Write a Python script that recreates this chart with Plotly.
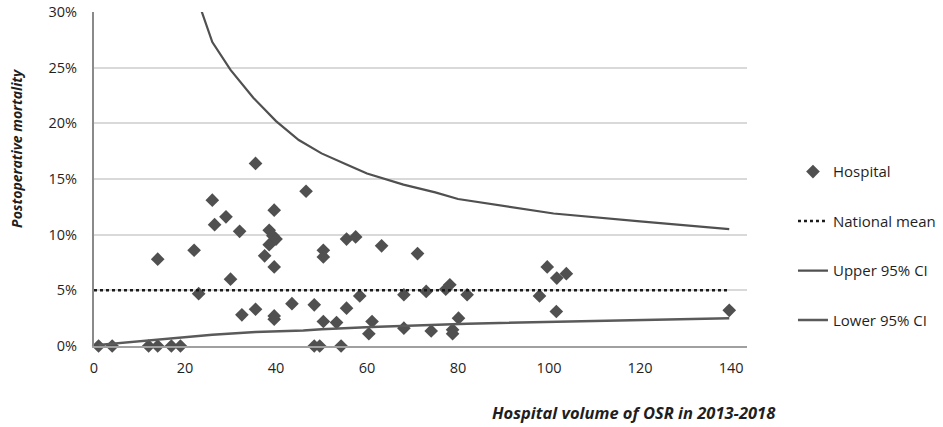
import plotly.graph_objects as go

# Hospital points: volume (2013-2018) and postoperative mortality (%)
hosp_volume = [1, 4, 12, 14, 17, 19, 14, 22, 23, 26, 26.5, 29, 30, 32, 32.5, 35.5, 35.5,
               37.5, 38.5, 38.5, 39.3, 40, 39.6, 39.6, 39.6, 39.6, 43.5, 46.6, 48.4, 48.4,
               49.6, 50.4, 50.4, 50.4, 53.3, 54.3, 55.5, 57.5, 55.5, 58.4, 60.4, 61.1, 63.2,
               68.1, 68.1, 71.1, 73.0, 74.1, 77.3, 78.2, 78.8, 78.8, 80.1, 82.0, 97.9, 99.6,
               101.7, 103.8, 101.6, 139.6]
hosp_mortality = [0, 0, 0, 0, 0, 0, 7.8, 8.6, 4.7, 13.1, 10.9, 11.6, 6.0, 10.3, 2.8, 16.4, 3.3,
                  8.1, 10.4, 9.1, 9.9, 9.6, 12.2, 7.1, 2.7, 2.4, 3.8, 13.9, 3.7, 0,
                  0, 8.6, 8.0, 2.2, 2.1, 0, 9.6, 9.8, 3.4, 4.5, 1.1, 2.2, 9.0,
                  4.6, 1.6, 8.3, 4.9, 1.35, 5.1, 5.5, 1.45, 1.1, 2.5, 4.6, 4.5, 7.1,
                  6.1, 6.5, 3.1, 3.2]

# National mean
mean_x = [0, 139.6]
mean_y = [5.0, 5.0]

# Upper 95% CI
upper_x = [22, 23.7, 26, 30, 35, 40, 45, 50, 55.5, 60, 68, 75, 80, 90, 101, 120, 139.6]
upper_y = [33.0, 30.0, 27.3, 24.8, 22.3, 20.2, 18.5, 17.3, 16.3, 15.5, 14.5, 13.8, 13.2,
           12.6, 11.9, 11.2, 10.5]

# Lower 95% CI
lower_x = [1, 12, 19, 26, 35.5, 41, 46, 50, 61, 82, 100, 139.6]
lower_y = [0.1, 0.5, 0.8, 1.0, 1.25, 1.3, 1.4, 1.5, 1.7, 2.0, 2.15, 2.5]

x_ticks = [0, 20, 40, 60, 80, 100, 120, 140]
y_ticks = [0, 5, 10, 15, 20, 25, 30]

FONT = "Open Sans"
TXT = "#1f1f1f"
fig = go.Figure()

fig.add_trace(go.Scatter(
    x=hosp_volume, y=hosp_mortality, mode="markers", name="Hospital",
    legendgroup="a",
    marker=dict(symbol="diamond", size=10.5, color="#505050", line=dict(width=0)),
    cliponaxis=False,
))
fig.add_trace(go.Scatter(
    x=mean_x, y=mean_y, mode="lines", name="National mean", legendgroup="b",
    line=dict(color="#1a1a1a", width=2.5, dash="dot"),
))
fig.add_trace(go.Scatter(
    x=upper_x, y=upper_y, mode="lines", name="Upper 95% CI", legendgroup="c",
    line=dict(color="#505050", width=2.2),
))
fig.add_trace(go.Scatter(
    x=lower_x, y=lower_y, mode="lines", name="Lower 95% CI", legendgroup="d",
    line=dict(color="#5a5a5a", width=2.5),
))

fig.update_layout(
    width=943, height=427,
    margin=dict(l=94, r=196, t=12, b=81, autoexpand=False),
    paper_bgcolor="white", plot_bgcolor="white",
    font=dict(family=FONT, size=14, color=TXT),
    showlegend=True,
    legend=dict(
        x=1.0704, xanchor="left", y=0.30, yanchor="middle",
        tracegroupgap=27, font=dict(size=15, color=TXT),
        bgcolor="rgba(0,0,0,0)",
    ),
    xaxis=dict(
        range=[0, 143.5], tickvals=x_ticks, ticktext=[str(v) for v in x_ticks],
        showgrid=False, zeroline=False, automargin=False,
        showline=True, linecolor="#a0a0a0", linewidth=2,
        ticks="", ticklabelstandoff=8, tickfont=dict(size=14.5),
    ),
    yaxis=dict(
        range=[0, 30], tickvals=y_ticks, ticktext=[f"{v}%" for v in y_ticks],
        showgrid=True, gridcolor="#d9d9d9", gridwidth=1.5,
        zeroline=False, showline=True, linecolor="#8a8a8a", linewidth=2,
        ticks="", ticklabelstandoff=12, automargin=False, tickfont=dict(size=14.5),
    ),
    annotations=[
        dict(
            text="<b><i>Hospital volume of OSR in 2013-2018</i></b>",
            xref="paper", yref="paper", x=1.0475, y=-0.198,
            xanchor="right", yanchor="middle", showarrow=False,
            font=dict(size=16.5, color=TXT),
        ),
        dict(
            text="<b><i>Postoperative mortality</i></b>",
            xref="paper", yref="paper", x=-0.118, y=0.593,
            xanchor="center", yanchor="middle", showarrow=False, textangle=-90,
            font=dict(size=14, color=TXT),
        ),
    ],
)

fig.write_html("out.html", post_script="document.body.style.margin='0px';",
               config={"displayModeBar": False})
